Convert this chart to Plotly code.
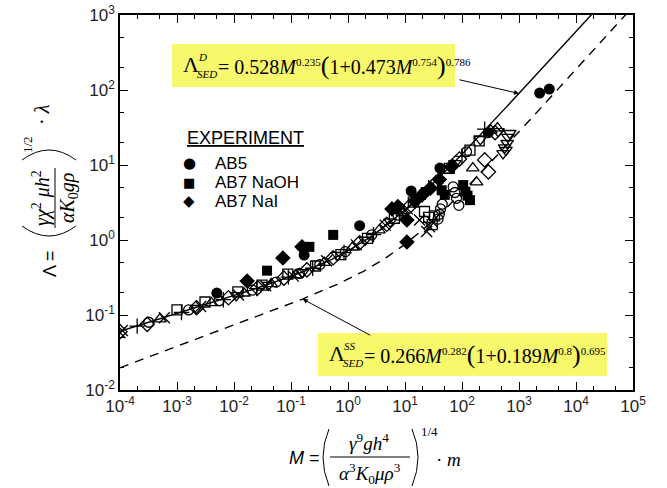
import numpy as np
import plotly.graph_objects as go

# ---------------- data ----------------
# model coefficients: Lambda = a * M^b * (1 + c * M^d)^e
sed_d = [0.528, 0.235, 0.473, 0.754, 0.786]
sed_ss = [0.266, 0.282, 0.189, 0.8, 0.695]

# experiments (filled symbols)
ab5_M = [0.005, 0.17, 1.6, 12.8, 41, 290, 2300, 3400]
ab5_L = [0.196, 0.63, 1.55, 4.5, 9.1, 27, 91, 103]

naoh_M = [0.038, 0.21, 0.55, 44, 50, 105, 115, 125, 138]
naoh_L = [0.39, 0.81, 1.17, 4.6, 4.0, 5.4, 4.4, 3.9, 3.4]

nai_M = [0.017, 0.072, 0.156, 5.9, 7.5, 10.8, 10.8, 15, 20, 28, 40, 65]
nai_L = [0.284, 0.575, 0.81, 2.6, 2.8, 1.85, 0.94, 3.3, 4.0, 4.9, 6.4, 9.5]

# other data sets (open symbols)
circ_M = [3.2e-4, 1.6e-3, 5.5e-3, 0.021, 0.055, 0.14, 0.32, 0.9, 2.6, 7.5, 22, 38, 40, 42, 45, 70, 75, 80, 88, 120]
circ_L = [0.080, 0.117, 0.155, 0.215, 0.275, 0.36, 0.47, 0.70, 1.17, 2.15, 4.3, 1.9, 2.2, 2.6, 3.0, 5.1, 4.3, 3.6, 2.9, 15]

sq_M = [1.0e-3, 3.1e-3, 0.0117, 0.031, 0.088, 0.27, 0.75, 2.2, 6.5, 14, 22, 26, 30, 33, 60, 138, 200]
sq_L = [0.117, 0.149, 0.203, 0.25, 0.35, 0.45, 0.64, 1.05, 1.95, 3.2, 2.4, 2.0, 1.6, 2.1, 9.0, 15.8, 21]

dia_M = [1.0e-4, 3.0e-4, 2.2e-3, 8e-3, 0.026, 0.075, 0.19, 0.55, 1.6, 4.8, 12, 35, 90, 250, 290, 380]
dia_L = [0.060, 0.075, 0.125, 0.17, 0.23, 0.31, 0.40, 0.58, 0.92, 1.62, 2.8, 5.8, 12, 11.7, 8.1, 27]

tup_M = [5e-4, 4e-3, 0.015, 0.045, 0.12, 0.38, 1.2, 3.5, 9, 18, 55, 155, 180, 320, 420]
tup_L = [0.088, 0.145, 0.195, 0.26, 0.34, 0.50, 0.80, 1.35, 2.3, 3.8, 8.5, 9.1, 5.9, 29, 31]

tdn_M = [2.2e-3, 0.011, 0.04, 0.16, 0.65, 2.0, 5.5, 16, 75, 210, 430, 525, 560, 590, 620, 640, 690]
tdn_L = [0.123, 0.183, 0.25, 0.37, 0.63, 1.0, 1.75, 3.6, 10.5, 22, 28, 14.3, 17, 15.8, 19.5, 23.6, 26.5]

xs_M = [1.0e-4, 1.1e-4, 6e-4, 2.6e-3, 0.012, 0.036, 0.11, 0.42, 1.4, 4.5, 11, 18, 24, 27, 30]
xs_L = [0.058, 0.062, 0.092, 0.13, 0.185, 0.245, 0.33, 0.53, 0.86, 1.58, 2.6, 1.85, 1.3, 1.5, 1.75]

plus_M = [2e-4, 1.2e-3, 6.5e-3, 0.025, 0.09, 0.24, 0.85, 2.8, 8.5, 26, 100, 250]
plus_L = [0.071, 0.108, 0.160, 0.225, 0.32, 0.42, 0.68, 1.18, 2.25, 5.0, 13, 30]

x_exps = [-4, -3, -2, -1, 0, 1, 2, 3, 4, 5]
y_exps = [-2, -1, 0, 1, 2, 3]

legend_names = ["AB5", "AB7 NaOH", "AB7 NaI"]
legend_glyphs = ["●", "■", "◆"]

# ---------------- figure ----------------
W, H = 667, 488
ML, MR, MT, MB = 120, 34, 15, 98
PW, PH = W - ML - MR, H - MT - MB


def px(xp):
    return (xp - ML) / PW


def py(yp):
    return (H - MB - yp) / PH


def sed(p, m):
    a, b, c, d, e = p
    return a * m ** b * (1 + c * m ** d) ** e


fig = go.Figure()
m_grid = np.logspace(-4, 5, 400)
fig.add_trace(go.Scatter(x=m_grid, y=sed(sed_d, m_grid), mode="lines",
                         line=dict(color="black", width=1.4), hoverinfo="skip"))
fig.add_trace(go.Scatter(x=m_grid, y=sed(sed_ss, m_grid), mode="lines",
                         line=dict(color="black", width=1.4, dash="9px,7px"), hoverinfo="skip"))

open_sets = [
    (circ_M, circ_L, "circle-open", 10),
    (sq_M, sq_L, "square-open", 10),
    (dia_M, dia_L, "diamond-open", 11),
    (tup_M, tup_L, "triangle-up-open", 11),
    (tdn_M, tdn_L, "triangle-down-open", 11),
    (xs_M, xs_L, "x-thin", 11),
    (plus_M, plus_L, "cross-thin", 11),
]
for mx, ly, sym, sz in open_sets:
    fig.add_trace(go.Scatter(x=mx, y=ly, mode="markers",
                             marker=dict(symbol=sym, size=sz, color="black",
                                         line=dict(color="black", width=1.3))))

for mx, ly, sym, sz, name in [(ab5_M, ab5_L, "circle", 11, legend_names[0]),
                              (naoh_M, naoh_L, "square", 10, legend_names[1]),
                              (nai_M, nai_L, "diamond", 12, legend_names[2])]:
    fig.add_trace(go.Scatter(x=mx, y=ly, mode="markers", name=name,
                             marker=dict(symbol=sym, size=sz, color="black")))

axis_common = dict(type="log", showgrid=False, zeroline=False, showline=True,
                   linecolor="black", linewidth=1.5, mirror="ticks",
                   ticks="inside", ticklen=8, tickwidth=1.2, tickcolor="black",
                   minor=dict(ticks="inside", ticklen=4, tickwidth=1, tickcolor="black", showgrid=False),
                   tickfont=dict(family="Liberation Sans, Arial", size=17, color="#222"))

fig.update_xaxes(range=[-4, 5], tickvals=[10.0 ** e for e in x_exps],
                 ticktext=[f"10<sup>{e}</sup>" for e in x_exps], **axis_common)
fig.update_yaxes(range=[-2, 3], tickvals=[10.0 ** e for e in y_exps],
                 ticktext=[f"10<sup>{e}</sup>" for e in y_exps], **axis_common)

SERIF = "Liberation Serif, Times New Roman"
SANS = "Liberation Sans, Arial"
YELLOW = "#F8F86C"

ann = []
shapes = []


def txt(xp, yp, text, size, family=SERIF, xanchor="left", angle=0):
    ann.append(dict(xref="paper", yref="paper", x=px(xp), y=py(yp), showarrow=False,
                    xanchor=xanchor, yanchor="middle", textangle=angle,
                    font=dict(family=family, size=size, color="black"), text=text))


def sp(t, size=11):
    return f'<sup><span style="font-size:{size}px">{t}</span></sup>'


def big(t):
    return f'<span style="font-size:26px">{t}</span>'


# model equations in yellow boxes
def equation(x0, x1, y0, y1, sup, body):
    shapes.append(dict(type="rect", xref="paper", yref="paper", layer="above",
                       x0=px(x0), x1=px(x1), y0=py(y1), y1=py(y0),
                       fillcolor=YELLOW, line=dict(width=0)))
    yc = (y0 + y1) / 2
    txt(x0 + 9, yc - 1, "Λ", 22)
    txt(x0 + 24, yc - 9, f"<i>{sup}</i>", 11)
    txt(x0 + 23, yc + 8, "<i>SED</i>", 11)
    txt(x0 + 44, yc, body, 20)


equation(172, 455, 44, 87, "D",
         "= 0.528<i>M</i>" + sp("0.235") + big("(") + "1+0.473<i>M</i>" + sp("0.754")
         + big(")") + sp("0.786"))
equation(318, 607, 333, 376, "SS",
         "= 0.266<i>M</i>" + sp("0.282") + big("(") + "1+0.189<i>M</i>" + sp("0.8")
         + big(")") + sp("0.695"))

# arrows from the equations to their curves
m_d = 1000.0
ann.append(dict(xref="x", yref="y", x=np.log10(m_d), y=np.log10(sed(sed_d, m_d)),
                ax=-61, ay=-14, showarrow=True, arrowhead=2, arrowsize=1, arrowwidth=1,
                arrowcolor="black", text=""))
m_s = 0.16
ann.append(dict(xref="x", yref="y", x=np.log10(m_s), y=np.log10(sed(sed_ss, m_s)),
                ax=69, ay=37, showarrow=True, arrowhead=2, arrowsize=1, arrowwidth=1,
                arrowcolor="black", text=""))

# legend block
txt(185, 138, "<u>EXPERIMENT</u>", 18, SANS)
for i, (g, name) in enumerate(zip(legend_glyphs, legend_names)):
    yy = 163 + 19 * i
    txt(189, yy, g, 15 if g != "■" else 13, "DejaVu Sans", xanchor="center")
    txt(213, yy, name, 17, SANS)

# y-axis title: Λ = ( γχ²μh² / αK0gρ )^(1/2) · λ  (rotated)
txt(50, 264, "Λ =", 18, SANS, xanchor="center", angle=-90)
txt(41, 198, "<i>γχ</i><sup>2</sup> <i>μh</i><sup>2</sup>", 20, xanchor="center", angle=-90)
txt(68, 198, "<i>αK</i><sub>0</sub><i>gρ</i>", 20, xanchor="center", angle=-90)
txt(27, 145, "1/2", 13, xanchor="center", angle=-90)
txt(42, 115, "· <i>λ</i>", 20, xanchor="center", angle=-90)

# x-axis title: M = ( γ⁹gh⁴ / α³K0μρ³ )^(1/4) · m
txt(304, 458, "<i>M</i> =", 18, SANS, xanchor="center")
txt(369, 442, "<i>γ</i><sup>9</sup><i>gh</i><sup>4</sup>", 19, xanchor="center")
txt(370, 473, "<i>α</i><sup>3</sup><i>K</i><sub>0</sub><i>μρ</i><sup>3</sup>", 19, xanchor="center")
txt(429, 431, "1/4", 13, xanchor="center")
txt(448, 459, "· <i>m</i>", 19, xanchor="center")

line_k = dict(color="black", width=1)
shapes += [
    # fraction bars
    dict(type="line", xref="paper", yref="paper", x0=px(55), x1=px(55), y0=py(168), y1=py(228), line=line_k),
    dict(type="line", xref="paper", yref="paper", x0=px(330), x1=px(410), y0=py(457), y1=py(457), line=line_k),
    # tall brackets of the y title
    dict(type="path", xref="paper", yref="paper", line=line_k,
         path=f"M {px(22)},{py(226)} Q {px(49)},{py(246)} {px(76)},{py(226)}"),
    dict(type="path", xref="paper", yref="paper", line=line_k,
         path=f"M {px(22)},{py(160)} Q {px(49)},{py(140)} {px(76)},{py(160)}"),
    # tall brackets of the x title
    dict(type="path", xref="paper", yref="paper", line=line_k,
         path=f"M {px(329)},{py(429)} Q {px(317)},{py(457)} {px(329)},{py(486)}"),
    dict(type="path", xref="paper", yref="paper", line=line_k,
         path=f"M {px(412)},{py(429)} Q {px(424)},{py(457)} {px(412)},{py(486)}"),
]

fig.update_layout(
    width=W, height=H, margin=dict(l=ML, r=MR, t=MT, b=MB, autoexpand=False),
    paper_bgcolor="white", plot_bgcolor="white",
    annotations=ann, shapes=shapes, showlegend=False,
)

fig.write_html("out.html")
